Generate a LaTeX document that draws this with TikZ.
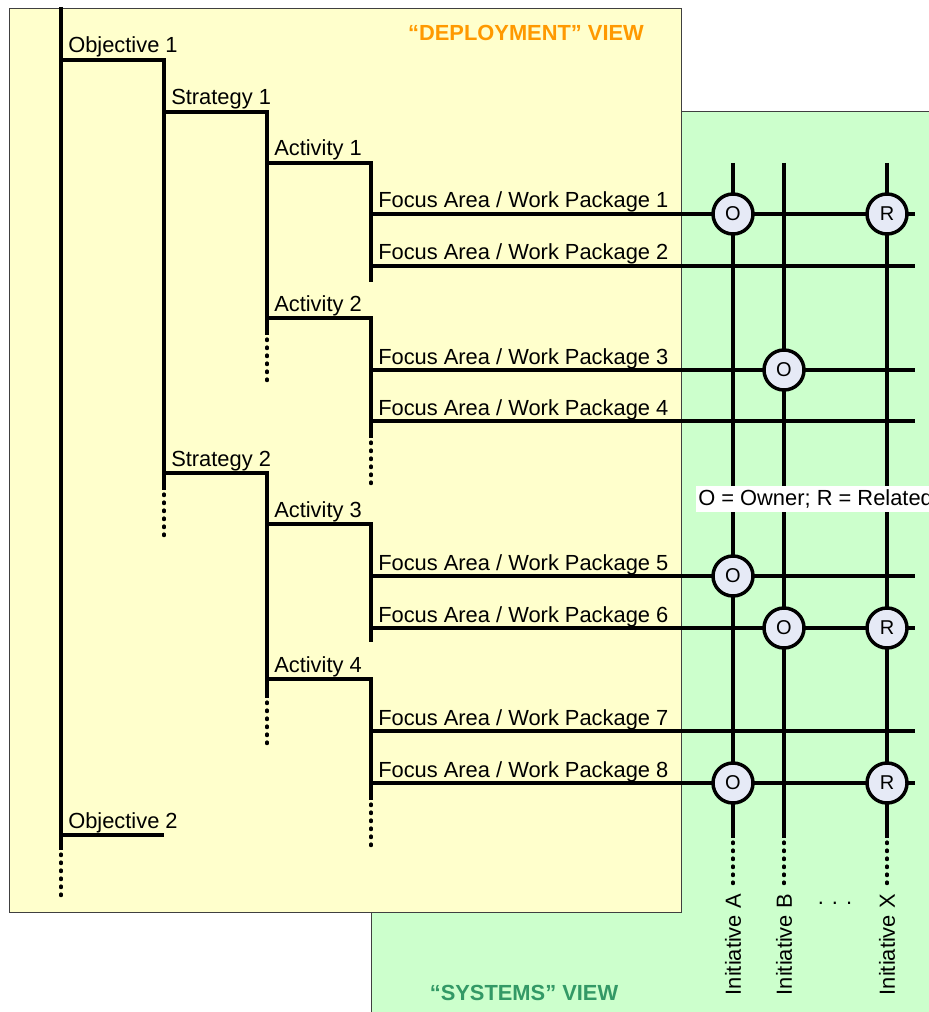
\documentclass[tikz,border=0pt]{standalone}
\usepackage{fontspec}
\setmainfont{Liberation Sans}
\usepackage{tikz}
\definecolor{deploy}{RGB}{255,255,204}
\definecolor{systems}{RGB}{204,255,204}
\definecolor{owner}{RGB}{230,234,246}
\definecolor{orangetxt}{RGB}{255,153,0}
\definecolor{greentxt}{RGB}{51,153,102}

\begin{document}
\begin{tikzpicture}[
  x=0.75pt, y=-0.75pt,
  font=\fontsize{16.4}{19}\selectfont,
  view/.style={draw=black!75, line width=0.75pt, fill=#1},
  branch/.style={line width=2.4pt},
  trail/.style={line width=2.4pt, line cap=round, dash pattern=on 1.2pt off 4.8pt, dash phase=3pt},
  lbl/.style={anchor=base west, inner sep=0pt},
  tag/.style={circle, draw, line width=2.6pt, fill=owner, minimum size=30pt, inner sep=0pt, font=\fontsize{15}{17}\selectfont},
  title/.style={font=\fontsize{16.4}{19}\selectfont\bfseries, text=#1},
  initiative/.style={rotate=90, anchor=east, inner sep=0pt},
  legend/.style={anchor=west, fill=white, inner xsep=1.5pt, inner ysep=2.5pt},
]

\useasboundingbox (0,0) rectangle (928,1012);

% the two views
\draw[view=systems] (371,112) rectangle (945,1030);
\draw[view=deploy] (9,9) rectangle (681,912);
\node[title=orangetxt] (deptitle) at (526,33) {“DEPLOYMENT” VIEW};
\node[title=greentxt] (systitle) at (524,993) {“SYSTEMS” VIEW};

% deployment tree
\coordinate (root) at (61,7);
\coordinate (obj1) at (61,60);
\coordinate (obj2) at (61,835);
\coordinate (rootcut) at (61,850);
\coordinate (rootend) at (61,898);
\coordinate (obj2end) at (164,835);
\coordinate (str1) at (164,112);
\coordinate (str2) at (164,473);
\coordinate (strcut) at (164,490);
\coordinate (strend) at (164,537);
\coordinate (act1) at (267,163);
\coordinate (act2) at (267,318);
\coordinate (act3) at (267,524);
\coordinate (act4) at (267,679);
\coordinate (actcutA) at (267,335);
\coordinate (actendA) at (267,382);
\coordinate (actcutB) at (267,698);
\coordinate (actendB) at (267,745);
\coordinate (facut1) at (371,282);
\coordinate (facut2) at (371,438);
\coordinate (faend2) at (371,487);
\coordinate (facut3) at (371,642);
\coordinate (facut4) at (371,800);
\coordinate (faend4) at (371,848);

\draw[branch] (root) -- (rootcut);
\draw[trail] (rootcut) -- (rootend);
\draw[branch] (obj1) -| (strcut);
\draw[trail] (strcut) -- (strend);
\draw[branch] (obj2) -- (obj2end);
\draw[branch] (str1) -| (actcutA);
\draw[trail] (actcutA) -- (actendA);
\draw[branch] (str2) -| (actcutB);
\draw[trail] (actcutB) -- (actendB);
\draw[branch] (act1) -| (facut1);
\draw[branch] (act2) -| (facut2);
\draw[trail] (facut2) -- (faend2);
\draw[branch] (act3) -| (facut3);
\draw[branch] (act4) -| (facut4);
\draw[trail] (facut4) -- (faend4);

\node[lbl] (obj1lbl) at (68,53) {Objective 1};
\node[lbl] (obj2lbl) at (68,828) {Objective 2};
\node[lbl] (str1lbl) at (171,105) {Strategy 1};
\node[lbl] (str2lbl) at (171,466) {Strategy 2};
\node[lbl] (act1lbl) at (274,156) {Activity 1};
\node[lbl] (act2lbl) at (274,311) {Activity 2};
\node[lbl] (act3lbl) at (274,517) {Activity 3};
\node[lbl] (act4lbl) at (274,672) {Activity 4};

% focus areas / work packages
\coordinate (fa1) at (371,214);  \coordinate (fa1e) at (915,214);
\coordinate (fa2) at (371,266);  \coordinate (fa2e) at (915,266);
\coordinate (fa3) at (371,370);  \coordinate (fa3e) at (915,370);
\coordinate (fa4) at (371,421);  \coordinate (fa4e) at (915,421);
\coordinate (fa5) at (371,576);  \coordinate (fa5e) at (915,576);
\coordinate (fa6) at (371,628);  \coordinate (fa6e) at (915,628);
\coordinate (fa7) at (371,731);  \coordinate (fa7e) at (915,731);
\coordinate (fa8) at (371,783);  \coordinate (fa8e) at (915,783);

\draw[branch] (fa1) -- (fa1e);
\draw[branch] (fa2) -- (fa2e);
\draw[branch] (fa3) -- (fa3e);
\draw[branch] (fa4) -- (fa4e);
\draw[branch] (fa5) -- (fa5e);
\draw[branch] (fa6) -- (fa6e);
\draw[branch] (fa7) -- (fa7e);
\draw[branch] (fa8) -- (fa8e);

\node[lbl] (fa1lbl) at (378,208) {Focus Area / Work Package 1};
\node[lbl] (fa2lbl) at (378,260) {Focus Area / Work Package 2};
\node[lbl] (fa3lbl) at (378,364) {Focus Area / Work Package 3};
\node[lbl] (fa4lbl) at (378,415) {Focus Area / Work Package 4};
\node[lbl] (fa5lbl) at (378,570) {Focus Area / Work Package 5};
\node[lbl] (fa6lbl) at (378,622) {Focus Area / Work Package 6};
\node[lbl] (fa7lbl) at (378,725) {Focus Area / Work Package 7};
\node[lbl] (fa8lbl) at (378,777) {Focus Area / Work Package 8};

% initiatives
\coordinate (inA) at (733,163);  \coordinate (inAcut) at (733,838);  \coordinate (inAend) at (733,888);
\coordinate (inB) at (784,163);  \coordinate (inBcut) at (784,838);  \coordinate (inBend) at (784,888);
\coordinate (inX) at (887,163);  \coordinate (inXcut) at (887,838);  \coordinate (inXend) at (887,888);

\draw[branch] (inA) -- (inAcut);
\draw[trail] (inAcut) -- (inAend);
\draw[branch] (inB) -- (inBcut);
\draw[trail] (inBcut) -- (inBend);
\draw[branch] (inX) -- (inXcut);
\draw[trail] (inXcut) -- (inXend);

\node[legend] (key) at (696,499) {O = Owner; R = Related};

\node[tag] (a1) at (inA|-fa1) {O};
\node[tag] (x1) at (inX|-fa1) {R};
\node[tag] (b3) at (inB|-fa3) {O};
\node[tag] (a5) at (inA|-fa5) {O};
\node[tag] (b6) at (inB|-fa6) {O};
\node[tag] (x6) at (inX|-fa6) {R};
\node[tag] (a8) at (inA|-fa8) {O};
\node[tag] (x8) at (inX|-fa8) {R};

\node[initiative] (inAlbl) at (733,894) {Initiative A};
\node[initiative] (inBlbl) at (784,894) {Initiative B};
\node[initiative] (inXlbl) at (887,894) {Initiative X};
\node (more) at (835,903) {. . .};

\end{tikzpicture}
\end{document}
